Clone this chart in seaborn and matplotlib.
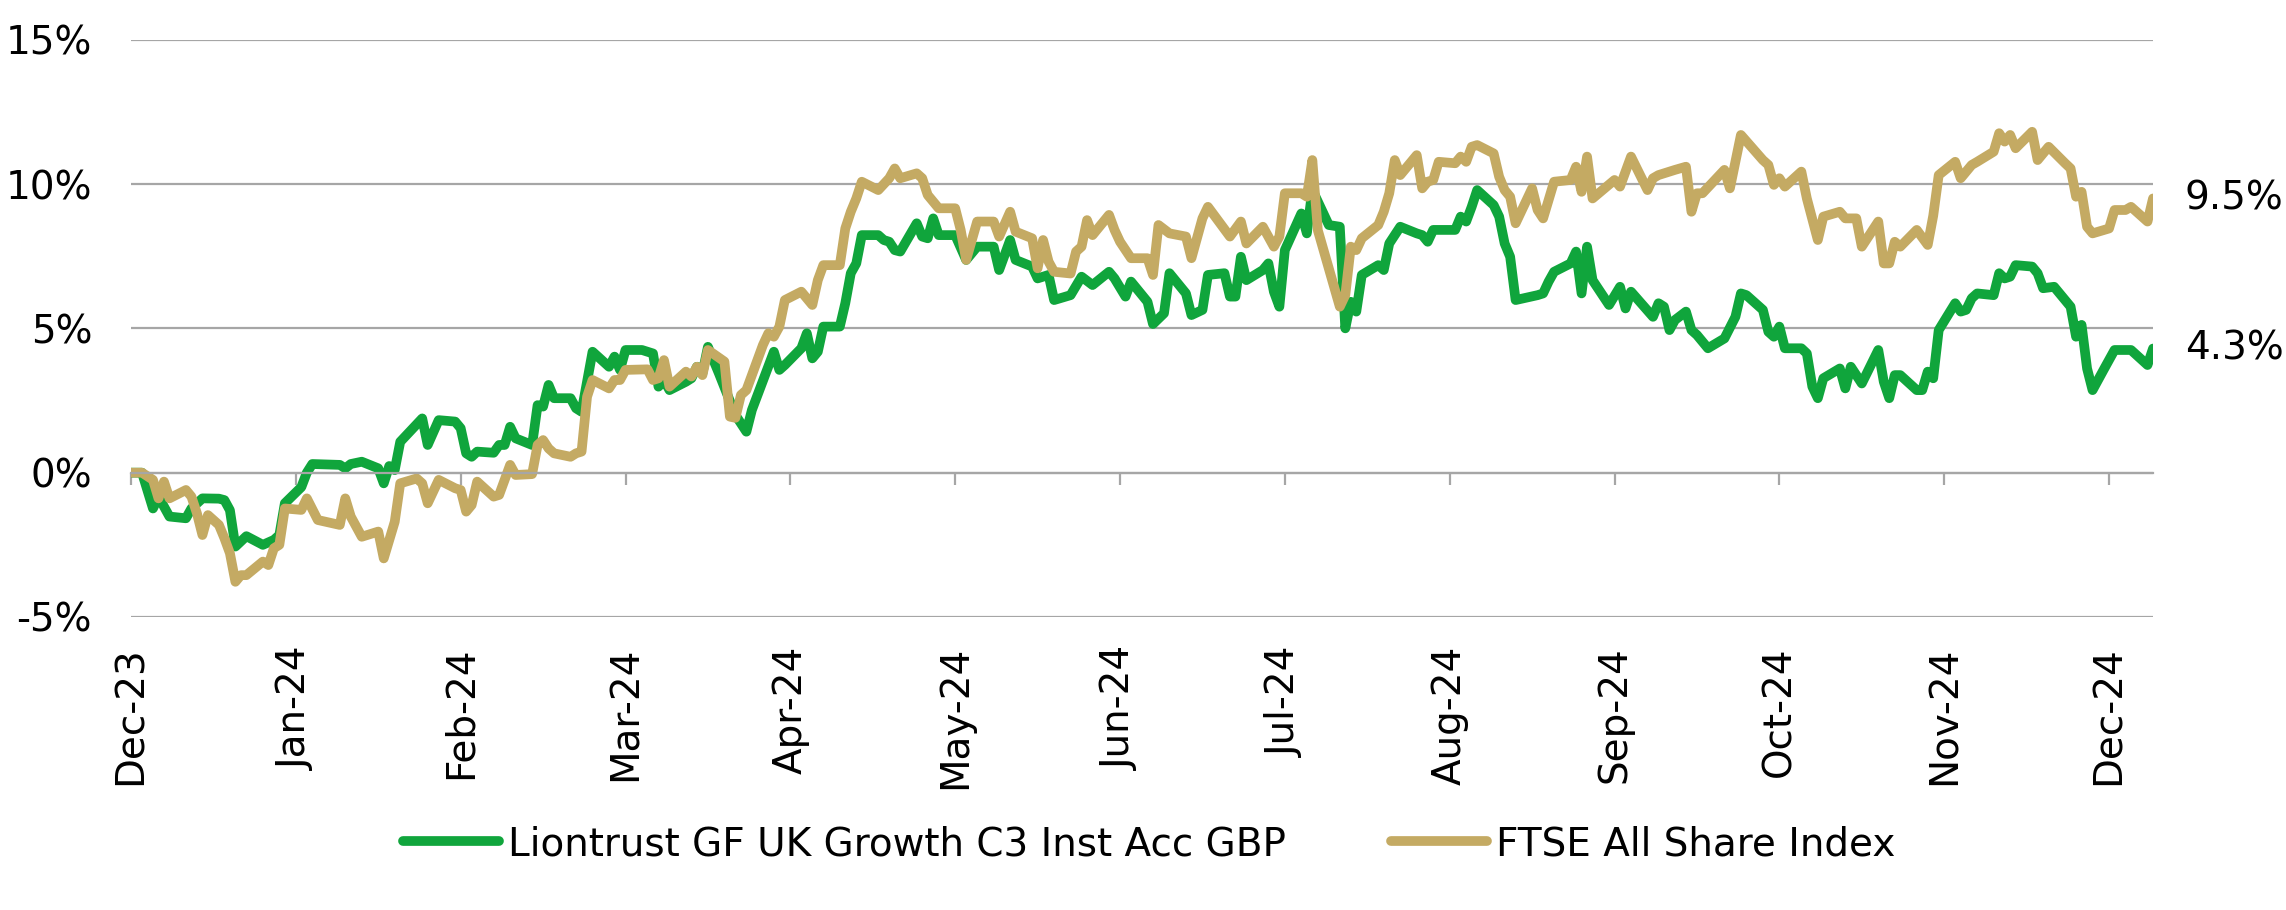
import matplotlib
matplotlib.use("Agg")
import matplotlib.pyplot as plt
import matplotlib.dates as mdates
from matplotlib.lines import Line2D
import pandas as pd
import seaborn as sns

# ---------------- data (calendar-day offsets from the start date) ----------------
START = "2023-12-15"
fund_label = "Liontrust GF UK Growth C3 Inst Acc GBP"
bench_label = "FTSE All Share Index"

fund_days = [0, 2, 4, 5, 7, 10, 11, 13, 16, 17, 18, 19, 21, 24, 26, 27, 28, 31, 32, 33,
             38, 39, 40, 42, 45, 46, 47, 48, 49, 53, 54, 56, 59, 60, 61, 62, 63, 66, 67, 68,
             69, 70, 73, 74, 75, 76, 77, 80, 81, 82, 84, 87, 88, 89, 90, 93, 95, 96, 97, 98,
             101, 102, 103, 104, 105, 107, 110, 112, 113, 117, 118, 119, 122, 123, 124, 125, 126, 129, 130, 131,
             132, 133, 136, 137, 138, 139, 140, 143, 144, 145, 146, 147, 150, 152, 154, 157, 158, 160, 161, 164,
             165, 167, 168, 171, 173, 175, 178, 179, 181, 182, 185, 186, 188, 189, 192, 193, 195, 196, 199, 200,
             201, 202, 203, 206, 207, 208, 209, 210, 213, 214, 215, 218, 220, 221, 222, 223, 224, 227, 228, 229,
             231, 234, 235, 236, 237, 241, 242, 243, 244, 245, 248, 249, 250, 251, 252, 256, 257, 258, 259, 262,
             263, 264, 265, 266, 269, 271, 272, 273, 277, 278, 279, 280, 281, 283, 284, 285, 287, 290, 292, 293,
             294, 297, 298, 299, 300, 301, 304, 305, 306, 307, 308, 311, 312, 313, 315, 318, 319, 320, 321, 322,
             325, 326, 327, 328, 329, 332, 333, 334, 335, 336, 339, 340, 341, 342, 343, 346, 347, 348, 350, 353,
             354, 355, 356, 357, 359, 361, 364, 367, 368]
fund_vals = [0.0, 0.0, -1.24, -0.83, -1.52, -1.58, -1.24, -0.89, -0.9, -0.95, -1.3, -2.56, -2.2, -2.5, -2.33, -2.16, -1.06, -0.5, 0.0, 0.3,
             0.27, 0.15, 0.3, 0.38, 0.15, -0.37, 0.23, 0.09, 1.07, 1.88, 0.96, 1.82, 1.77, 1.54, 0.67, 0.55, 0.73, 0.69, 0.96, 0.96,
             1.59, 1.19, 0.96, 2.34, 2.29, 3.04, 2.58, 2.58, 2.23, 2.11, 4.19, 3.67, 4.02, 3.56, 4.25, 4.25, 4.13, 2.98, 3.21, 2.86,
             3.15, 3.27, 3.67, 3.44, 4.36, 3.44, 2.0, 1.42, 2.17, 4.19, 3.56, 3.73, 4.31, 4.83, 3.96, 4.19, 5.06, 5.06, 5.87, 6.91,
             7.25, 8.23, 8.23, 8.06, 8.0, 7.71, 7.66, 8.64, 8.18, 8.12, 8.81, 8.23, 8.23, 7.37, 7.83, 7.83, 7.02, 8.06, 7.37, 7.14,
             6.73, 6.85, 5.98, 6.15, 6.79, 6.5, 6.96, 6.73, 6.1, 6.62, 5.92, 5.15, 5.52, 6.91, 6.21, 5.46, 5.64, 6.85, 6.91, 6.1,
             6.1, 7.48, 6.67, 7.02, 7.25, 6.27, 5.75, 7.71, 8.98, 8.29, 9.8, 8.58, 8.52, 5.0, 5.92, 5.58, 6.85, 7.19, 7.02, 7.94,
             8.52, 8.29, 8.23, 8.0, 8.41, 8.41, 8.87, 8.7, 9.21, 9.79, 9.27, 8.87, 7.94, 7.48, 5.98, 6.15, 6.21, 6.62, 6.96, 7.25,
             7.66, 6.21, 7.83, 6.67, 5.81, 6.44, 5.69, 6.27, 5.4, 5.87, 5.75, 4.94, 5.29, 5.58, 4.94, 4.77, 4.31, 4.65, 5.4, 6.21,
             6.15, 5.64, 4.88, 4.71, 5.06, 4.31, 4.31, 4.13, 2.98, 2.58, 3.27, 3.61, 2.92, 3.67, 3.09, 4.25, 3.15, 2.58, 3.38, 3.38,
             2.86, 2.86, 3.5, 3.27, 4.94, 5.87, 5.58, 5.64, 6.04, 6.21, 6.15, 6.91, 6.73, 6.79, 7.19, 7.14, 6.91, 6.39, 6.44, 5.75,
             4.71, 5.12, 3.61, 2.86, 3.56, 4.25, 4.25, 3.73, 4.3]

bench_days = [0, 2, 4, 5, 6, 7, 10, 11, 12, 13, 14, 16, 17, 18, 19, 20, 21, 24, 25, 26,
              27, 28, 31, 32, 34, 38, 39, 40, 42, 45, 46, 48, 49, 52, 53, 54, 56, 59, 60, 61,
              62, 63, 66, 67, 69, 70, 73, 74, 75, 76, 77, 80, 81, 82, 83, 84, 87, 88, 89, 90,
              94, 95, 96, 97, 98, 101, 102, 103, 104, 105, 108, 109, 110, 111, 112, 115, 116, 117, 118, 119,
              122, 124, 125, 126, 129, 130, 131, 132, 133, 136, 138, 139, 140, 143, 144, 145, 147, 150, 151, 152,
              154, 157, 158, 160, 161, 164, 165, 166, 167, 168, 171, 172, 173, 174, 175, 178, 179, 180, 182, 185,
              186, 187, 189, 192, 193, 195, 196, 200, 202, 203, 206, 208, 209, 210, 213, 214, 215, 216, 220, 221,
              222, 223, 224, 227, 228, 229, 230, 231, 234, 235, 236, 237, 238, 241, 242, 243, 244, 245, 248, 249,
              250, 251, 252, 255, 256, 257, 259, 262, 263, 264, 265, 266, 270, 271, 273, 276, 277, 278, 281, 283,
              284, 285, 286, 290, 291, 293, 297, 298, 299, 300, 301, 304, 305, 307, 308, 311, 312, 314, 315, 318,
              319, 320, 321, 322, 325, 327, 328, 329, 332, 333, 335, 336, 339, 340, 341, 342, 343, 346, 347, 349,
              352, 353, 354, 355, 356, 357, 360, 361, 363, 364, 367, 368]
bench_vals = [0.0, 0.0, -0.25, -0.89, -0.31, -0.89, -0.6, -0.83, -1.41, -2.16, -1.47, -1.81, -2.27, -2.79, -3.78, -3.55, -3.55, -3.08, -3.2, -2.62,
              -2.5, -1.24, -1.29, -0.89, -1.64, -1.81, -0.89, -1.52, -2.22, -2.04, -2.97, -1.7, -0.37, -0.2, -0.37, -1.06, -0.25, -0.54, -0.6, -1.35,
              -1.12, -0.31, -0.83, -0.77, 0.27, -0.08, -0.05, 0.96, 1.13, 0.84, 0.67, 0.55, 0.67, 0.73, 2.63, 3.21, 2.92, 3.21, 3.21, 3.56,
              3.58, 3.21, 3.27, 3.9, 2.98, 3.5, 3.33, 3.67, 3.38, 4.25, 3.85, 1.94, 1.9, 2.69, 2.86, 4.42, 4.83, 4.71, 5.06, 5.98,
              6.27, 5.81, 6.67, 7.19, 7.19, 8.46, 9.04, 9.5, 10.08, 9.79, 10.2, 10.54, 10.2, 10.37, 10.2, 9.62, 9.16, 9.16, 8.41, 7.37,
              8.7, 8.7, 8.18, 9.04, 8.35, 8.12, 7.08, 8.06, 7.31, 6.96, 6.9, 7.66, 7.83, 8.75, 8.23, 8.93, 8.41, 8.0, 7.43, 7.43,
              6.85, 8.58, 8.29, 8.18, 7.43, 8.81, 9.21, 8.18, 8.7, 7.94, 8.52, 7.83, 8.18, 9.68, 9.68, 9.56, 10.83, 8.4, 5.75, 6.15,
              7.83, 7.71, 8.12, 8.58, 9.04, 9.68, 10.83, 10.31, 11.0, 9.85, 10.08, 10.14, 10.77, 10.72, 10.95, 10.77, 11.29, 11.35, 11.06, 10.25,
              9.79, 9.56, 8.64, 9.85, 9.1, 8.81, 10.08, 10.14, 10.6, 9.73, 10.95, 9.5, 10.14, 9.91, 10.95, 9.79, 10.2, 10.31, 10.49, 10.6,
              9.04, 9.68, 9.68, 10.49, 9.85, 11.7, 10.83, 10.66, 9.97, 10.2, 9.91, 10.43, 9.5, 8.06, 8.87, 9.04, 8.81, 8.81, 7.83, 8.7,
              7.25, 7.25, 8.0, 7.83, 8.41, 7.89, 8.9, 10.31, 10.77, 10.2, 10.66, 10.77, 11.12, 11.76, 11.47, 11.7, 11.24, 11.81, 10.83, 11.29,
              10.72, 10.54, 9.56, 9.73, 8.52, 8.29, 8.46, 9.1, 9.1, 9.21, 8.7, 9.5]

label_every_days = 30
y_tick_values = [-5, 0, 5, 10, 15]

# ---------------- styling ----------------
GREEN = "#10A53C"
GOLD = "#C4AA63"
GRID = "#A6A6A6"
FS = 28
LW = 7

start = pd.Timestamp(START)
df = pd.concat([
    pd.DataFrame({"date": start + pd.to_timedelta(fund_days, unit="D"),
                  "ret": fund_vals, "series": fund_label}),
    pd.DataFrame({"date": start + pd.to_timedelta(bench_days, unit="D"),
                  "ret": bench_vals, "series": bench_label}),
], ignore_index=True)

sns.set_theme(style="white")
plt.rcParams["font.family"] = ["DejaVu Sans"]
plt.rcParams["text.color"] = "black"
plt.rcParams["xtick.color"] = "black"
plt.rcParams["ytick.color"] = "black"

W, H = 2286, 910
fig = plt.figure(figsize=(W / 100, H / 100), dpi=100)
left_px, right_px, top_px, bottom_px = 131, 2153, 39.7, 617
ax = fig.add_axes([left_px / W, 1 - bottom_px / H,
                   (right_px - left_px) / W, (bottom_px - top_px) / H])

sns.lineplot(data=df, x="date", y="ret", hue="series",
             hue_order=[fund_label, bench_label],
             palette={fund_label: GREEN, bench_label: GOLD},
             estimator=None, linewidth=LW, legend=False, ax=ax,
             solid_joinstyle="round", solid_capstyle="round")

last_day = max(max(fund_days), max(bench_days))
end = start + pd.Timedelta(days=last_day)
ax.set_xlim(start, end)
ax.set_ylim(min(y_tick_values), max(y_tick_values))
ax.set_xlabel("")
ax.set_ylabel("")

# y axis
ax.set_yticks(y_tick_values, labels=[f"{v}%" for v in y_tick_values])
ax.tick_params(axis="y", length=0, pad=28, labelsize=FS, labelcolor="black")
ax.grid(axis="y", color=GRID, linewidth=1.6)
ax.grid(axis="x", visible=False)
ax.set_axisbelow(True)
for s in ax.spines.values():
    s.set_visible(False)

# x axis line at 0% with tick marks
ax.spines["bottom"].set_visible(True)
ax.spines["bottom"].set_position(("data", 0))
ax.spines["bottom"].set_color(GRID)
ax.spines["bottom"].set_linewidth(1.6)
tick_dates = [start + pd.Timedelta(days=d) for d in range(0, last_day + 1, label_every_days)]
ax.set_xticks(tick_dates)
ax.tick_params(axis="x", length=8.6, width=1.6, color=GRID, direction="out",
               labelbottom=False, bottom=True)

# labels at the bottom of the plot area
sec = ax.secondary_xaxis(0)
sec.set_xticks(mdates.date2num(tick_dates), labels=[d.strftime("%b-%y") for d in tick_dates])
sec.tick_params(axis="x", length=0, pad=21, labelsize=FS, labelrotation=90, labelcolor="black")
for s in sec.spines.values():
    s.set_visible(False)

# end-value labels
for vals in (bench_vals, fund_vals):
    ax.annotate(f"{vals[-1]:.1f}%", xy=(end, vals[-1]), xytext=(23, 0),
                textcoords="offset points", ha="left", va="center",
                fontsize=FS, color="black", annotation_clip=False)

# legend
handles = [Line2D([], [], color=GREEN, lw=LW, solid_capstyle="round"),
           Line2D([], [], color=GOLD, lw=LW, solid_capstyle="round")]
leg = fig.legend(handles, [fund_label, bench_label], loc="center",
                 bbox_to_anchor=(0.5026, 1 - 844 / H), ncol=2, frameon=False,
                 fontsize=FS, handlelength=2.47, handletextpad=0.23, columnspacing=2.7)
for t in leg.get_texts():
    t.set_color("black")

fig.savefig("out.png", dpi=100)
